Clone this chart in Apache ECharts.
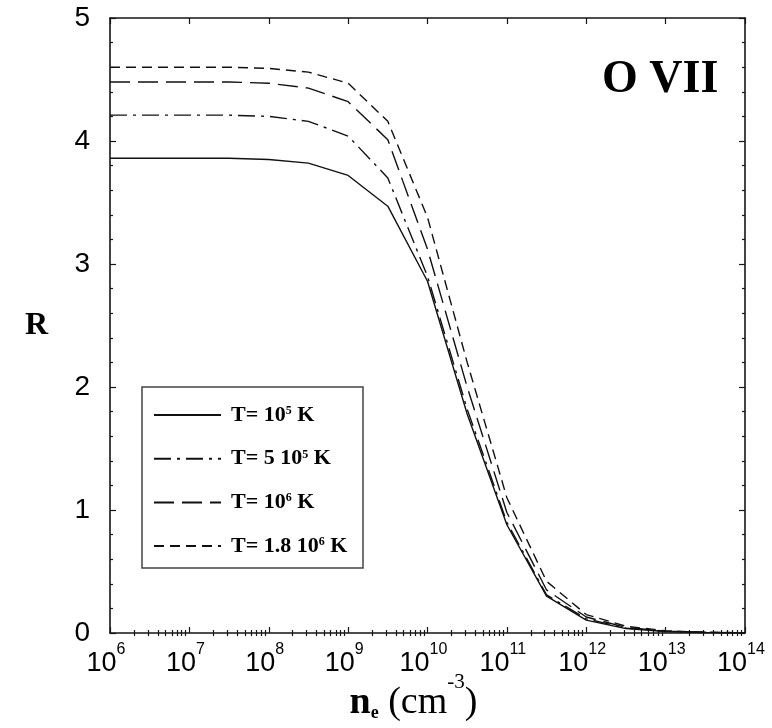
<!DOCTYPE html>
<html><head><meta charset="utf-8">
<script src="https://cdn.jsdelivr.net/npm/echarts@6/dist/echarts.min.js"></script>
<style>html,body{margin:0;padding:0;background:#fff}#c{width:772px;height:728px}</style>
</head><body><div id="c"></div>
<script>
// electron density (cm^-3), half-decade steps
const density = [1e6, 3.162e6, 1e7, 3.162e7, 1e8, 3.162e8, 1e9, 3.162e9, 1e10, 3.162e10, 1e11, 3.162e11, 1e12, 3.162e12, 1e13, 3.162e13, 1e14];
// R ratio for each temperature
const R_T1e5  = [3.86, 3.86, 3.86, 3.86, 3.85, 3.82, 3.72, 3.47, 2.86, 1.78, 0.88, 0.30, 0.105, 0.036, 0.012, 0.004, 0.001];
const R_T5e5  = [4.21, 4.21, 4.21, 4.21, 4.20, 4.16, 4.04, 3.70, 2.90, 1.82, 0.90, 0.31, 0.115, 0.040, 0.013, 0.004, 0.001];
const R_T1e6  = [4.48, 4.48, 4.48, 4.48, 4.47, 4.43, 4.32, 4.01, 3.12, 2.00, 0.98, 0.35, 0.130, 0.045, 0.015, 0.005, 0.002];
const R_T18e5 = [4.60, 4.60, 4.60, 4.60, 4.59, 4.56, 4.47, 4.16, 3.38, 2.20, 1.10, 0.42, 0.150, 0.055, 0.018, 0.006, 0.002];
const seriesNames = ['T= 10^5 K', 'T= 5 10^5 K', 'T= 10^6 K', 'T= 1.8 10^6 K'];
// x tick labels
const xMajorTicks = [1e6, 1e7, 1e8, 1e9, 1e10, 1e11, 1e12, 1e13, 1e14];
const xMajorExps = ['6', '7', '8', '9', '10', '11', '12', '13', '14'];
const xMinorMultipliers = [2, 3, 4, 5, 6, 7, 8, 9];
const yTicks = [0, 1, 2, 3, 4, 5];
const titleText = 'O VII';

const xMinorTicks = [];
for (let d = 0; d < xMajorTicks.length - 1; d++) {
  for (const m of xMinorMultipliers) xMinorTicks.push(xMajorTicks[d] * m);
}

const ink = '#151515';
const axisLine = { show: true, onZero: false, lineStyle: { color: ink, width: 1.6 } };
const tickStyle = { color: ink, width: 1.2 };
const sans = 'Liberation Sans';
const serif = 'Liberation Serif';

function xLabel(v) {
  let i = xMajorTicks.findIndex(t => Math.abs(t - v) / t < 1e-6);
  if (i < 0) return '';
  return '{b|10}{s|' + xMajorExps[i] + '}';
}
function legendLabel(name) {
  return '{t|' + name.replace(/\^(\d+)/, '}{s|$1}{t|') + '}';
}

const xBase = { type: 'log', logBase: 10, min: 1e6, max: 1e14, splitLine: { show: false } };
const yBase = { type: 'value', min: 0, max: 5, interval: 1, splitLine: { show: false } };

const styles = [
  { type: 'solid' },
  { type: [17, 6, 3, 6] },
  { type: [20, 8] },
  { type: [10, 6] }
];
const dataSets = [R_T1e5, R_T5e5, R_T1e6, R_T18e5];

const chart = echarts.init(document.getElementById('c'), null, { renderer: 'canvas' });
chart.setOption({
  animation: false,
  backgroundColor: '#fff',
  grid: { left: 110, right: 27, top: 18, bottom: 95, containLabel: false, outerBoundsMode: 'none' },
  title: {
    text: titleText, left: 597, top: 52,
    textStyle: { fontFamily: serif, fontWeight: 'bold', fontSize: 46, color: '#000' }
  },
  xAxis: [
    Object.assign({}, xBase, {
      position: 'bottom',
      axisLine: axisLine,
      axisTick: { show: true, inside: true, length: 6, customValues: xMajorTicks, lineStyle: tickStyle },
      axisLabel: {
        customValues: xMajorTicks, formatter: xLabel, margin: 4, color: '#000',
        padding: [0, 8, 0, 0],
        rich: {
          b: { fontFamily: sans, fontSize: 27, lineHeight: 40, verticalAlign: 'bottom', color: '#000' },
          s: { fontFamily: sans, fontSize: 16, lineHeight: 16, padding: [5, 0, 0, 0], verticalAlign: 'top', color: '#000' }
        }
      },
      name: '{n|n}{e|e}{t| (cm}{u|-3}{t|)}',
      nameLocation: 'middle', nameGap: 35, nameMoveOverlap: false,
      nameTextStyle: {
        padding: [0, 28, 0, 0],
        rich: {
          n: { fontFamily: serif, fontWeight: 'bold', fontSize: 38, lineHeight: 54, verticalAlign: 'bottom', color: '#000' },
          e: { fontFamily: serif, fontWeight: 'bold', fontSize: 18, lineHeight: 18, verticalAlign: 'bottom', color: '#000' },
          t: { fontFamily: serif, fontSize: 38, lineHeight: 54, verticalAlign: 'bottom', color: '#000' },
          u: { fontFamily: serif, fontSize: 21, lineHeight: 21, padding: [4, 0, 0, 0], verticalAlign: 'top', color: '#000' }
        }
      }
    }),
    Object.assign({}, xBase, {
      position: 'bottom',
      axisLine: { show: false },
      axisTick: { show: true, inside: true, length: 3, customValues: xMinorTicks, lineStyle: tickStyle },
      axisLabel: { show: false }
    }),
    Object.assign({}, xBase, {
      position: 'top',
      axisLine: axisLine,
      axisTick: { show: true, inside: true, length: 6, customValues: xMajorTicks, lineStyle: tickStyle },
      axisLabel: { show: false }
    }),
    Object.assign({}, xBase, {
      position: 'top',
      axisLine: { show: false },
      axisTick: { show: true, inside: true, length: 3, customValues: xMinorTicks, lineStyle: tickStyle },
      axisLabel: { show: false }
    })
  ],
  yAxis: [
    Object.assign({}, yBase, {
      position: 'left',
      axisLine: axisLine,
      axisTick: { show: true, inside: true, length: 6, lineStyle: tickStyle },
      minorTick: { show: true, splitNumber: 5, length: 3, lineStyle: tickStyle },
      axisLabel: { fontFamily: sans, fontSize: 28, color: '#000', margin: 20,
        formatter: v => String(yTicks[yTicks.indexOf(v)]) },
      name: 'R', nameLocation: 'middle', nameRotate: 0, nameGap: 62,
      nameTextStyle: { fontFamily: serif, fontWeight: 'bold', fontSize: 32, color: '#000' }
    }),
    Object.assign({}, yBase, {
      position: 'right',
      axisLine: axisLine,
      axisTick: { show: true, inside: true, length: 6, lineStyle: tickStyle },
      minorTick: { show: true, splitNumber: 5, length: 3, lineStyle: tickStyle },
      axisLabel: { show: false }
    })
  ],
  legend: {
    orient: 'vertical', left: 153, top: 404, padding: 0,
    itemWidth: 67, itemHeight: 20, itemGap: 21.7,
    selectedMode: false,
    itemStyle: { opacity: 0 },
    formatter: legendLabel,
    textStyle: {
      padding: [0, 0, 0, 5],
      rich: {
        t: { fontFamily: serif, fontWeight: 'bold', fontSize: 22, lineHeight: 20, color: '#000' },
        s: { fontFamily: serif, fontWeight: 'bold', fontSize: 12, lineHeight: 12, verticalAlign: 'top', color: '#000' }
      }
    },
    data: seriesNames
  },
  graphic: [{
    type: 'rect', shape: { x: 142, y: 387, width: 221, height: 181 },
    style: { fill: 'none', stroke: '#444', lineWidth: 1.5 }, z: 10
  }],
  series: dataSets.map((vals, k) => ({
    name: seriesNames[k],
    type: 'line',
    xAxisIndex: 0, yAxisIndex: 0,
    symbol: 'none',
    smooth: false,
    lineStyle: Object.assign({ color: '#111', width: 1.4 }, styles[k]),
    itemStyle: { color: '#111' },
    data: density.map((n, i) => [n, vals[i]])
  }))
});
</script></body></html>
